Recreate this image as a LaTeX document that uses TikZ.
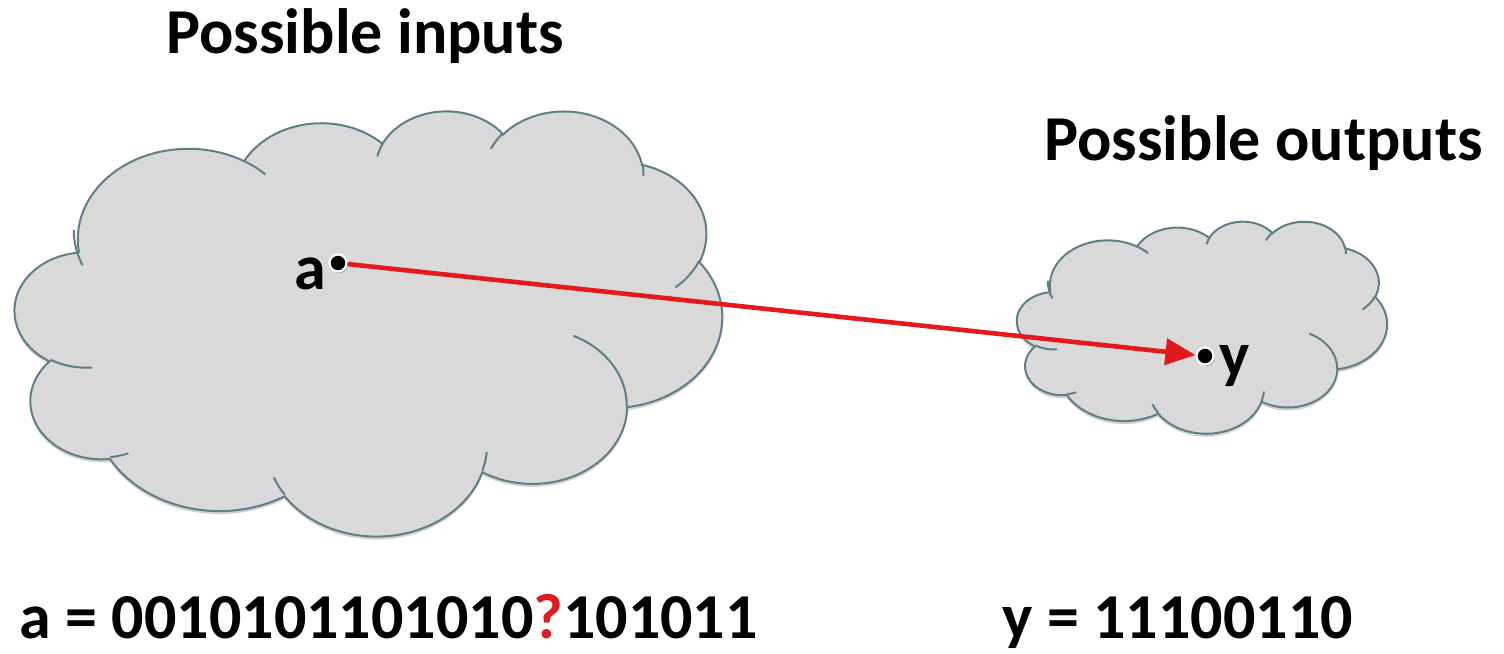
\documentclass[tikz,border=0pt]{standalone}
\usepackage{fontspec}
\setmainfont{Carlito}
\usetikzlibrary{arrows.meta,shadows}

\definecolor{cloudfill}{HTML}{D9D9D9}
\definecolor{cloudline}{HTML}{5F7F87}
\definecolor{arrowred}{HTML}{E3191C}

% One lobe of a cloud outline: x radius, y radius, start angle, sweep.
% Angles are polar angles of the ellipse (y pointing down), turned into
% the parametric angles TikZ expects.
\newcommand\puff[4]{arc[x radius=#1pt, y radius=#2pt,
  start angle={atan2(#1*sin(#3),#2*cos(#3))},
  delta angle={mod(atan2(#1*sin(#3+#4),#2*cos(#3+#4))-atan2(#1*sin(#3),#2*cos(#3))+720,360)}]}

% Cloud in the box with top left corner (#1,#2), width #3, height #4 (px)
\newcommand\cloudshape[4]{%
  \begin{scope}[shift={(#1,#2)}, xscale={#3*0.5/432}, yscale={-#4*0.5/432}]
    \draw[cloudbody] (39.00pt,143.70pt)
      \puff{67.53}{91.90}{-190.4875}{123.7805}
      \puff{53.33}{72.67}{-144.1024}{89.9452}
      \puff{43.65}{59.45}{-145.8079}{99.7230}
      \puff{48.57}{65.95}{-130.9861}{117.2417}
      \puff{53.33}{72.73}{-78.7089}{109.0269}
      \puff{67.75}{92.20}{-46.2673}{130.2690}
      \puff{57.85}{78.67}{0.6250}{114.0333}
      \puff{67.52}{92.15}{22.4516}{115.1726}
      \puff{77.20}{105.43}{66.2426}{75.7110}
      \puff{43.60}{59.18}{-274.9421}{146.7356}
      \puff{43.45}{59.45}{-246.8285}{152.5189}
      -- cycle;
    \draw[cloudcrease]
      (46.93pt,261.77pt) \puff{43.45}{59.45}{86.7420}{26.4295}
      (69.28pt,348.99pt) \puff{43.60}{59.18}{73.6105}{11.4475}
      (164.78pt,390.90pt) \puff{67.52}{92.15}{137.6242}{14.0811}
      (288.27pt,347.51pt) \puff{67.52}{92.15}{6.4533}{15.9984}
      (341.29pt,229.54pt) \puff{57.85}{78.67}{-70.2924}{70.9174}
      (417.98pt,153.54pt) \puff{53.33}{72.73}{30.3180}{27.7515}
      (383.24pt,54.26pt) \puff{48.57}{65.95}{-13.7443}{14.8589}
      (290.78pt,39.52pt) \puff{48.57}{65.95}{-149.1815}{18.1954}
      (221.41pt,47.20pt) \puff{43.65}{59.45}{-163.4943}{17.6864}
      (140.00pt,51.92pt) \puff{67.53}{91.90}{-66.7070}{12.3194}
      (41.27pt,157.89pt) \puff{67.53}{91.90}{150}{30};
  \end{scope}}

\tikzset{
  cloudbody/.style={fill=cloudfill, draw=cloudline, line width=1pt,
    drop shadow={shadow xshift=0pt, shadow yshift=-1.5pt, opacity=0.18, fill=black}},
  cloudcrease/.style={draw=cloudline, line width=1pt},
  label/.style={font=\fontsize{32}{38}\selectfont\bfseries, inner sep=0pt},
  point/.style={circle, fill=black, draw=white, line width=1.1pt,
    minimum size=8.5pt, inner sep=0pt,
    drop shadow={shadow xshift=0.6pt, shadow yshift=-0.8pt, opacity=0.3, fill=black}},
  mapsto/.style={draw=arrowred, line width=2.3pt,
    -{Triangle[length=15pt, width=13pt]}},
}

\begin{document}
\begin{tikzpicture}[x=0.5pt, y=-0.5pt]
  \useasboundingbox (0,0) rectangle (1504,653);

  \cloudshape{15}{110}{707}{425}
  \cloudshape{1017}{221}{370}{212}

  \node[label, anchor=base west] (tin) at (166,53) {Possible inputs};
  \node[label, anchor=base west] (tout) at (1044,160) {Possible outputs};

  \node[point] (pa) at (338,263) {};
  \node[point] (py) at (1205,356) {};
  \draw[mapsto] (pa) -- (py);

  \node[label, anchor=base east] (la) at (326,289) {a};
  \node[label, anchor=base west] (ly) at (1219,376) {y};

  \node[label, anchor=base west] (va) at (19,638)
    {a = 0010101101010\textcolor{arrowred}{?}101011};
  \node[label, anchor=base west] (vy) at (1002,638) {y = 11100110};
\end{tikzpicture}
\end{document}
